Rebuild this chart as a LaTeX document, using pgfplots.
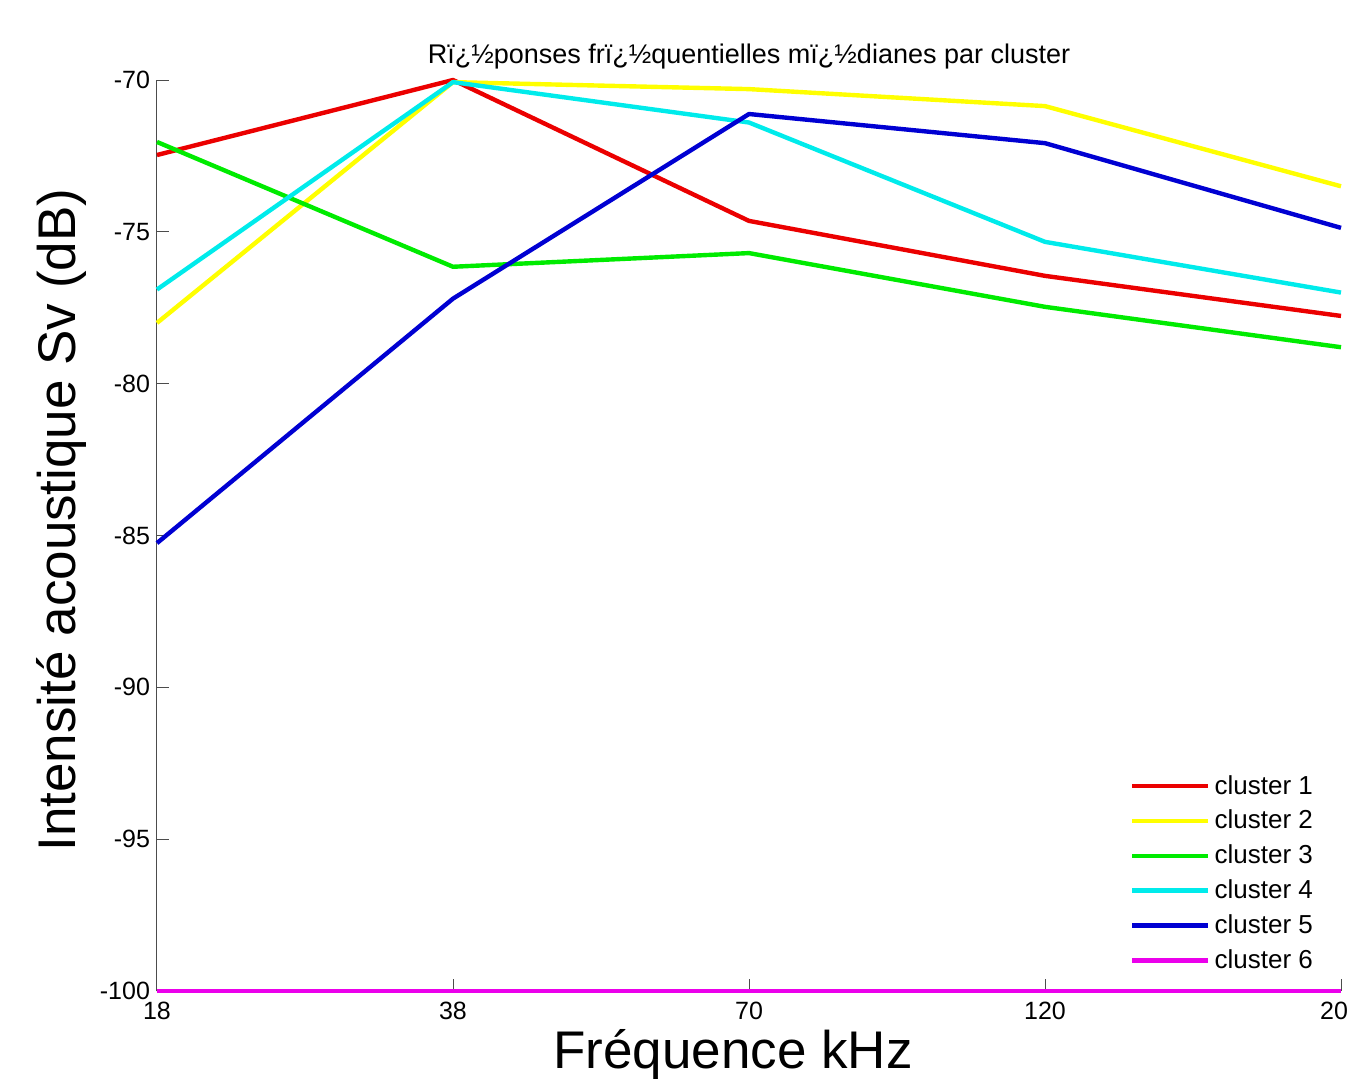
\documentclass[border=0pt]{standalone}
\usepackage{pgfplots}
\pgfplotsset{compat=1.18}
\usepackage{fontspec}
\setmainfont{Liberation Sans}
\definecolor{cRed}{RGB}{235,0,0}
\definecolor{cYel}{RGB}{255,255,0}
\definecolor{cGrn}{RGB}{0,235,0}
\definecolor{cCya}{RGB}{0,235,235}
\definecolor{cBlu}{RGB}{0,0,210}
\definecolor{cMag}{RGB}{235,0,235}
\begin{document}
\begin{tikzpicture}
\begin{axis}[
  at={(0,0)}, anchor=south west,
  scale only axis,
  width=592pt, height=455.5pt,
  xmin=0, xmax=4, ymin=-100, ymax=-70,
  xtick={0,1,2,3,4},
  xticklabels={18,38,70,120,200},
  ytick={-100,-95,-90,-85,-80,-75,-70},
  axis x line=bottom, axis y line=left,
  axis line style={-, black!70, line width=0.5pt},
  tick style={black!70, line width=0.5pt},
  major tick length=6pt,
  tick align=inside,
  /pgf/number format/assume math mode=true,
  tick label style={font=\fontsize{12.5}{15}\selectfont},
  xticklabel style={yshift=-2pt},
  title={Rï¿½ponses frï¿½quentielles mï¿½dianes par cluster},
  title style={font=\fontsize{13.5}{16}\selectfont, yshift=-4pt},
  xlabel={Fréquence kHz},
  ylabel={Intensité acoustique Sv (dB)},
  xlabel style={font=\fontsize{26.5}{30}\selectfont, yshift=2pt, xshift=-8pt},
  ylabel style={font=\fontsize{26.5}{30}\selectfont, at={(ticklabel cs:0.517)}, yshift=0pt},
  legend style={at={(rel axis cs:0.985,0.0125)}, anchor=south east, draw=none, fill=none,
    font=\fontsize{13}{15.5}\selectfont, row sep=2.5pt},
  legend cell align=left,
  legend image code/.code={\draw[#1] (0pt,0pt) -- (38pt,0pt);},
  every axis plot/.append style={line width=2.2pt, line join=round},
  clip=false,
]
\addplot[cRed] coordinates {(0,-72.47) (1,-70.0) (2,-74.64) (3,-76.45) (4,-77.77)};
\addlegendentry{cluster 1}
\addplot[cYel] coordinates {(0,-78.0) (1,-70.07) (2,-70.3) (3,-70.86) (4,-73.5)};
\addlegendentry{cluster 2}
\addplot[cGrn] coordinates {(0,-72.04) (1,-76.15) (2,-75.7) (3,-77.47) (4,-78.8)};
\addlegendentry{cluster 3}
\addplot[cCya] coordinates {(0,-76.9) (1,-70.07) (2,-71.4) (3,-75.33) (4,-77.0)};
\addlegendentry{cluster 4}
\addplot[cBlu] coordinates {(0,-85.25) (1,-77.2) (2,-71.12) (3,-72.08) (4,-74.87)};
\addlegendentry{cluster 5}
\addplot[cMag] coordinates {(0,-100) (1,-100) (2,-100) (3,-100) (4,-100)};
\addlegendentry{cluster 6}
\end{axis}
\pgfresetboundingbox
\path[use as bounding box] (-78.5pt,-43.5pt) rectangle (595.5pt,495.5pt);
\end{tikzpicture}
\end{document}
